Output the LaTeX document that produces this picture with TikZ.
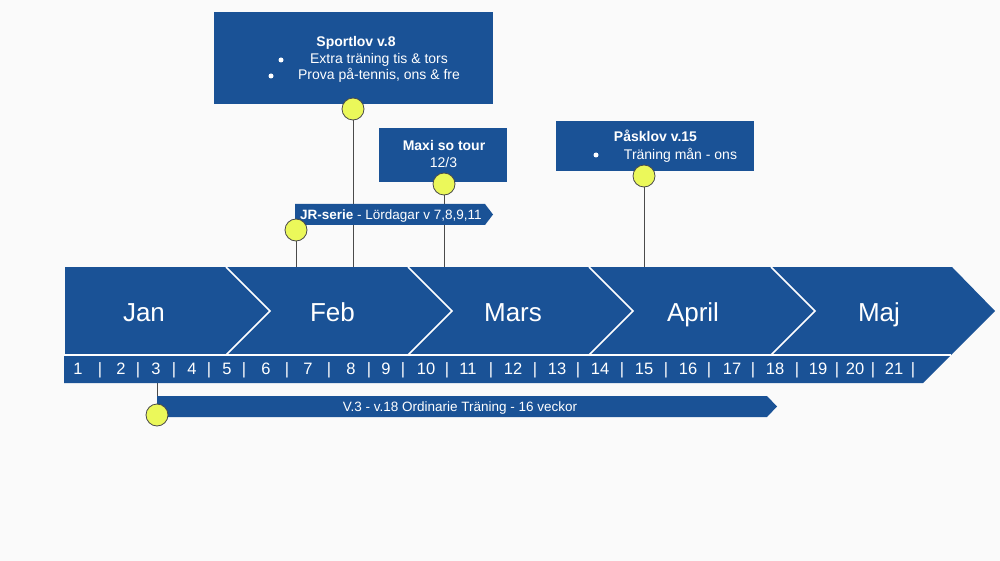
\documentclass[tikz,border=0pt]{standalone}
\usepackage{fontspec}
\setmainfont{Liberation Sans}
\definecolor{tlblue}{HTML}{1A5296}
\definecolor{tlyellow}{HTML}{EBF85A}
\definecolor{bgc}{HTML}{FAFAFA}
\definecolor{linegray}{HTML}{4A4A4A}
\pgfdeclarelayer{bg}
\pgfdeclarelayer{back}
\pgfsetlayers{bg,back,main}
\begin{document}
\begin{tikzpicture}[x=1pt,y=-1pt,
  txt/.style={text=white, inner sep=0pt, anchor=base, font=\fontsize{14}{16}\selectfont},
  ttl/.style={text=white, inner sep=0pt, anchor=base, font=\fontsize{14}{16}\selectfont\bfseries},
  small/.style={text=white, inner sep=0pt, anchor=base, font=\fontsize{13.5}{16}\selectfont},
  month/.style={text=white, inner sep=0pt, anchor=base, font=\fontsize{26}{30}\selectfont},
  num/.style={text=white, inner sep=0pt, anchor=base, font=\fontsize{16.5}{18}\selectfont},
  dot/.style={circle, fill=tlyellow, draw=linegray, line width=0.8pt, minimum size=22pt, inner sep=0pt},
  conn/.style={draw=linegray, line width=0.9pt},
  bulletdot/.style={circle, fill=white, minimum size=5pt, inner sep=0pt},
  infobox/.style={fill=tlblue, draw=none, inner sep=0pt},
  sep/.style={draw=white, line width=1.5pt}]

\begin{pgfonlayer}{bg}
\fill[bgc] (0,0) rectangle (1000,561);
\end{pgfonlayer}
\useasboundingbox (0,0) rectangle (1000,561);

% main chevron band with week bar
\fill[tlblue] (65,267) -- (952,267) -- (995,311) -- (923,383) -- (64,383) -- (64,355) -- (65,355) -- cycle;
\draw[sep] (64,355) -- (951,355);
\foreach \a in {226,408,589,771}
  \draw[sep] (\a,267) -- (\a+44,311) -- (\a,355);

% month labels
\node[month] (jan) at (144,321) {Jan};
\node[month] (feb) at (332.5,321) {Feb};
\node[month] (mar) at (513,321) {Mars};
\node[month] (apr) at (693,321) {April};
\node[month] (maj) at (879,321) {Maj};

% week numbers
\foreach \v/\x in {1/78,2/121,3/156,4/192,5/227,6/266,7/308,8/351,9/386,10/426,11/468,12/513,13/557,14/600,15/644,16/688,17/732,18/775,19/818,20/855,21/894}
  \node[num] (n\v) at (\x,374) {\v};
\foreach \k/\x in {1/100,2/138,3/174,4/209,5/244,6/287,7/329,8/369,9/403,10/447,11/491,12/535,13/578,14/622,15/666,16/709,17/753,18/797,19/837,20/873,21/913}
  \node[num] (s\k) at (\x,374) {|};

% info boxes
\node[infobox, minimum width=279pt, minimum height=92pt] (sport) at (353.5,58) {};
\node[ttl] (sportt) at (356,47) {Sportlov v.8};
\node[bulletdot] (sb1) at (281,60) {};
\node[txt] (sl1) at (379,64) {Extra träning tis \& tors};
\node[bulletdot] (sb2) at (271,76) {};
\node[txt] (sl2) at (379,80) {Prova på-tennis, ons \& fre};

\node[infobox, minimum width=128pt, minimum height=54pt] (maxi) at (443,155) {};
\node[ttl] (maxit) at (444,151) {Maxi so tour};
\node[txt] (maxid) at (443.5,167.3) {12/3};

\node[infobox, minimum width=198pt, minimum height=50pt] (pask) at (655,146) {};
\node[ttl] (paskt) at (655.5,142) {Påsklov v.15};
\node[bulletdot] (pb1) at (596,155) {};
\node[txt] (pl1) at (680.5,160) {Träning mån - ons};

% JR-serie arrow
\fill[tlblue] (295,204) -- (485,204) -- (493,214.5) -- (485,225) -- (295,225) -- cycle;
\node[small, anchor=base west] (jr) at (300,220) {\textbf{JR-serie} - Lördagar v 7,8,9,11};

% ordinary training bar
\fill[tlblue] (157,396) -- (767,396) -- (777,406.5) -- (767,417) -- (157,417) -- cycle;
\node[small] (ord) at (460,411.5) {V.3 - v.18 Ordinarie Träning - 16 veckor};

% milestone dots
\node[dot] (c1) at (353,109) {};
\node[dot] (c2) at (444,184) {};
\node[dot] (c3) at (296,230) {};
\node[dot] (c4) at (644,176) {};
\node[dot] (c5) at (157,415) {};

\coordinate (t1) at (353,267);
\coordinate (t2) at (444,267);
\coordinate (t3) at (296,267);
\coordinate (t4) at (644,267);
\coordinate (t5) at (157,383);

\begin{pgfonlayer}{back}
\draw[conn] (c1) -- (t1);
\draw[conn] (c2) -- (t2);
\draw[conn] (c3) -- (t3);
\draw[conn] (c4) -- (t4);
\draw[conn] (t5) -- (c5);
\end{pgfonlayer}
\end{tikzpicture}
\end{document}
